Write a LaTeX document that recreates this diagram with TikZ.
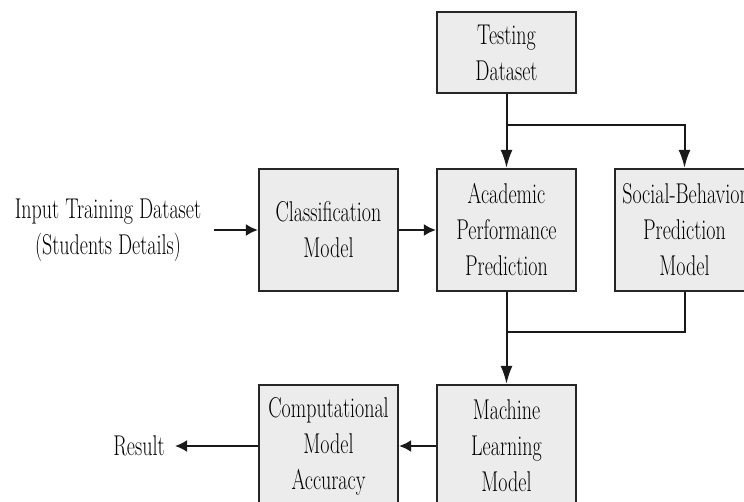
\documentclass[tikz,border=0pt]{standalone}
\usepackage{fontspec}
\setmainfont{Latin Modern Roman}[FakeStretch=0.7]
\usetikzlibrary{arrows.meta}

\tikzset{
  block/.style={draw=black!85, fill=gray!15, line width=1.1pt,
    minimum width=69.5pt, minimum height=61pt, inner sep=0pt,
    align=center, font=\fontsize{14.3}{18}\selectfont},
  smallblock/.style={block, minimum height=40.5pt},
  plain/.style={align=center, font=\fontsize{14.3}{18}\selectfont, inner sep=0pt},
  link/.style={line width=1pt, draw=black!90},
  vtip/.style={link, -{Latex[length=9pt,width=6pt]}},
  htip/.style={link, -{Latex[length=6pt,width=6pt]}}
}

\begin{document}
\begin{tikzpicture}[x=0.5pt, y=-0.5pt]
  \useasboundingbox (0,0) rectangle (744,502);
  \clip (0,0) rectangle (744,502);

  % boxes
  \node[smallblock] (test) at (506.5,52.5) {Testing\\Dataset};
  \node[block] (cls)  at (328.5,230) {Classification\\Model};
  \node[block] (acad) at (506.5,230) {Academic\\Performance\\Prediction};
  \node[block] (soc)  at (684.5,230) {Social-Behavior\\Prediction\\Model};
  \node[block] (ml)   at (506.5,446) {Machine\\Learning\\Model};
  \node[block] (comp) at (328.5,446) {Computational\\Model\\Accuracy};

  % free text
  \node[plain, inner xsep=6pt] (inp) at (108,230) {Input Training Dataset\\(Students Details)};
  \node[plain, inner xsep=5pt] (res) at (139,446) {Result};

  % junction points
  \coordinate (br) at (506.5,125);
  \coordinate (jn) at (506.5,332);

  % connectors
  \draw[vtip] (test.south) -- (acad.north);
  \draw[vtip] (br) -| (soc.north);
  \draw[htip] (inp.east) -- (cls.west);
  \draw[htip] (cls.east) -- (acad.west);
  \draw[vtip] (acad.south) -- (ml.north);
  \draw[link] (soc.south) |- (jn);
  \draw[htip] (ml.west) -- (comp.east);
  \draw[htip] (comp.west) -- (res.east);
\end{tikzpicture}
\end{document}
